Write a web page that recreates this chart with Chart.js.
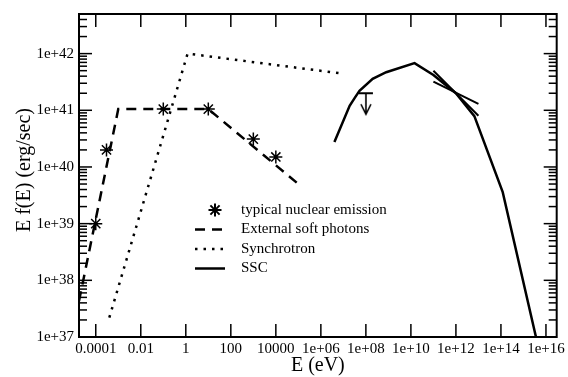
<!DOCTYPE html>
<html>
<head>
<meta charset="utf-8">
<script src="https://cdn.jsdelivr.net/npm/chart.js@4/dist/chart.umd.min.js"></script>
<style>
  html, body { margin: 0; padding: 0; background: #fff; }
  #wrap { width: 568px; height: 377px; position: relative; }
</style>
</head>
<body>
<div id="wrap"><canvas id="sed"></canvas></div>
<script>
// typical nuclear emission (stars)
const starE = [1e-4, 3e-4, 0.1, 10, 1000, 1e4];
const starF = [1e39, 2e40, 1.05e41, 1.05e41, 3.1e40, 1.5e40];

// external soft photons (dashed)
const extE = [1.8e-5, 1e-3, 10, 1e5];
const extF = [4.3e37, 1.05e41, 1.05e41, 5e39];

// synchrotron (dotted)
const synE = [4e-4, 1.2, 7e6];
const synF = [2.2e37, 1e42, 4.5e41];

// SSC (solid)
const sscE = [4e6, 1.9e7, 3.2e7, 5.2e7, 2e8, 8e8, 1.45e10, 1e11, 1e12, 6.6e12, 1.2e14, 3.6e15];
const sscF = [2.75e40, 1.2e41, 1.66e41, 2.2e41, 3.6e41, 4.7e41, 6.8e41, 4.2e41, 2e41, 7.9e40, 3.6e39, 1e37];

// bow-tie around 1e12
const bowE = [1e11, 1e13];
const bowAF = [5e41, 8e40];
const bowBF = [3.2e41, 1.3e41];

// upper limit
const ulE = [1e8];
const ulF = [2e41];

// axes
const xTicks = [1e-4, 1e-2, 1, 100, 1e4, 1e6, 1e8, 1e10, 1e12, 1e14, 1e16];
const xTickLabels = ['0.0001', '0.01', '1', '100', '10000', '1e+06', '1e+08', '1e+10', '1e+12', '1e+14', '1e+16'];
const yTicks = [1e37, 1e38, 1e39, 1e40, 1e41, 1e42];
const yTickLabels = ['1e+37', '1e+38', '1e+39', '1e+40', '1e+41', '1e+42'];

const legendLabels = ['typical nuclear emission', 'External soft photons', 'Synchrotron', 'SSC'];

function pts(xs, ys) {
  return xs.map((x, i) => ({x: x, y: ys[i]}));
}

function upperLimitSymbol() {
  let c = document.createElement('canvas');
  c.width = 16; c.height = 46;
  let g = c.getContext('2d');
  g.strokeStyle = '#000';
  g.lineWidth = 2;
  g.beginPath(); g.moveTo(1, 23); g.lineTo(15, 23); g.stroke();
  g.lineWidth = 1.6;
  g.beginPath();
  g.moveTo(8, 23); g.lineTo(8, 44);
  g.moveTo(3, 34); g.lineTo(8, 44); g.lineTo(13, 34);
  g.stroke();
  return c;
}

const serif = '"Liberation Serif", "DejaVu Serif", serif';

// frame, inside ticks, axis titles and legend
const decor = {
  id: 'decor',
  afterDraw(chart) {
    let ctx = chart.ctx;
    let a = chart.chartArea;
    let xs = chart.scales.x, ys = chart.scales.y;
    function seg(x1, y1, x2, y2) {
      ctx.beginPath(); ctx.moveTo(x1, y1); ctx.lineTo(x2, y2); ctx.stroke();
    }
    ctx.save();
    ctx.strokeStyle = '#000';
    ctx.lineWidth = 1.5;
    xTicks.forEach(v => {
      let px = xs.getPixelForValue(v);
      seg(px, a.bottom, px, a.bottom - 13);
      seg(px, a.top, px, a.top + 13);
    });
    for (let d = 37; d <= 42; d++) {
      for (let m = 1; m <= 9; m++) {
        let v = m * Math.pow(10, d);
        if (v > ys.max) break;
        let len = m === 1 ? 13 : 8;
        let py = ys.getPixelForValue(v);
        seg(a.left, py, a.left + len, py);
        seg(a.right, py, a.right - len, py);
      }
    }
    ctx.lineWidth = 2;
    ctx.strokeRect(a.left, a.top, a.right - a.left, a.bottom - a.top);

    // axis titles
    ctx.fillStyle = '#000';
    ctx.font = '20px ' + serif;
    ctx.textAlign = 'center';
    ctx.textBaseline = 'alphabetic';
    ctx.fillText('E (eV)', (a.left + a.right) / 2, 371);
    ctx.save();
    ctx.translate(30, 170);
    ctx.rotate(-Math.PI / 2);
    ctx.fillText('E f(E) (erg/sec)', 0, 0);
    ctx.restore();

    // legend
    let rows = [210, 229.5, 249, 268.5];
    let x0 = 195, x1 = 225;
    Chart.helpers.drawPoint(ctx, {pointStyle: 'star', radius: 6.5, borderWidth: 1.5}, 215, rows[0]);
    ctx.lineWidth = 2.5;
    ctx.setLineDash([10, 7]);
    seg(x0, rows[1], x1, rows[1]);
    ctx.lineWidth = 2.5;
    ctx.setLineDash([2.5, 6]);
    seg(x0, rows[2], x1, rows[2]);
    ctx.lineWidth = 2.5;
    ctx.setLineDash([]);
    seg(x0, rows[3], x1, rows[3]);
    ctx.font = '15px ' + serif;
    ctx.textAlign = 'left';
    ctx.textBaseline = 'middle';
    legendLabels.forEach((t, i) => ctx.fillText(t, 241, rows[i]));
    ctx.restore();
  }
};

new Chart(document.getElementById('sed'), {
  type: 'line',
  data: {
    datasets: [
      {data: pts(starE, starF), showLine: false, pointStyle: 'star', pointRadius: 6.5,
        borderColor: '#000', borderWidth: 1.5},
      {data: pts(extE, extF), borderColor: '#000', borderWidth: 2.5, borderDash: [10, 7], pointRadius: 0},
      {data: pts(synE, synF), borderColor: '#000', borderWidth: 2.5, borderDash: [2.5, 6], pointRadius: 0},
      {data: pts(sscE, sscF), borderColor: '#000', borderWidth: 2.5, pointRadius: 0},
      {data: pts(bowE, bowAF), borderColor: '#000', borderWidth: 2, pointRadius: 0},
      {data: pts(bowE, bowBF), borderColor: '#000', borderWidth: 2, pointRadius: 0},
      {data: pts(ulE, ulF), showLine: false, pointStyle: upperLimitSymbol(), pointRadius: 8}
    ]
  },
  options: {
    responsive: true,
    maintainAspectRatio: false,
    animation: false,
    events: [],
    devicePixelRatio: 1,
    layout: {padding: {top: 3.3, right: 10.5, left: 0, bottom: 0}},
    plugins: {legend: {display: false}, tooltip: {enabled: false}},
    scales: {
      x: {
        type: 'logarithmic',
        min: 1.8e-5,
        max: 3e16,
        bounds: 'data',
        grid: {display: false, drawTicks: false},
        border: {display: false},
        afterBuildTicks: s => { s.ticks = xTicks.map(v => ({value: v})); },
        afterFit: s => { s.height = 40; },
        ticks: {
          autoSkip: false, maxRotation: 0, minRotation: 0, padding: 3, color: '#000',
          font: {family: serif, size: 15},
          callback: (v, i) => xTickLabels[i]
        }
      },
      y: {
        type: 'logarithmic',
        min: 1e37,
        max: 5e42,
        bounds: 'data',
        grid: {display: false, drawTicks: false},
        border: {display: false},
        afterBuildTicks: s => { s.ticks = yTicks.map(v => ({value: v})); },
        afterFit: s => { s.width = 79; },
        ticks: {
          autoSkip: false, padding: 5, color: '#000',
          font: {family: serif, size: 15},
          callback: (v, i) => yTickLabels[i]
        }
      }
    }
  },
  plugins: [decor]
});
</script>
</body>
</html>
